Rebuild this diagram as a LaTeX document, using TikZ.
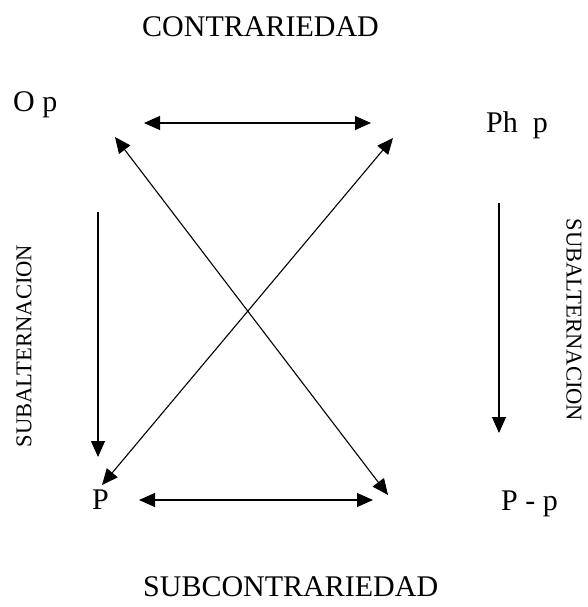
\documentclass[tikz,border=0pt]{standalone}
\usepackage{fontspec}
\setmainfont{Liberation Serif}
\usetikzlibrary{arrows.meta}
\begin{document}
\begin{tikzpicture}[x=1pt,y=-1pt,
  lbl/.style={inner sep=0pt,anchor=base west,font=\fontsize{30}{34}\selectfont},
  side/.style={inner sep=0pt,font=\fontsize{22.6}{26}\selectfont},
  con/.style={line width=1.1pt,-{Triangle[length=16pt,width=14pt]}},
  bicon/.style={line width=1.1pt,{Triangle[length=16pt,width=14pt]}-{Triangle[length=16pt,width=14pt]}}]
\useasboundingbox (0,0) rectangle (588,607);
\node[lbl] (contr) at (142,37) {CONTRARIEDAD};
\node[lbl] (subc) at (143,596) {SUBCONTRARIEDAD};
\node[lbl] (op) at (13,112) {O p};
\node[lbl] (php) at (486,132) {Ph\ \ p};
\node[lbl] (p) at (92,509) {P};
\node[lbl] (pp) at (501,510) {P - p};
\node[side,rotate=90] (sl) at (24,346) {SUBALTERNACION};
\node[side,rotate=-90] (sr) at (574,320) {SUBALTERNACION};
\coordinate (t1) at (144,123);
\coordinate (t2) at (371,123);
\coordinate (b1) at (139,500);
\coordinate (b2) at (373,500);
\coordinate (d1a) at (115,137);
\coordinate (d1b) at (388,495);
\coordinate (d2a) at (393,138);
\coordinate (d2b) at (102,485);
\coordinate (l1) at (98,212);
\coordinate (l2) at (98,457);
\coordinate (r1) at (499,203);
\coordinate (r2) at (499,433);
\draw[bicon] (t1) -- (t2);
\draw[bicon] (b1) -- (b2);
\draw[bicon] (d1a) -- (d1b);
\draw[bicon] (d2a) -- (d2b);
\draw[con] (l1) -- (l2);
\draw[con] (r1) -- (r2);
\end{tikzpicture}
\end{document}
